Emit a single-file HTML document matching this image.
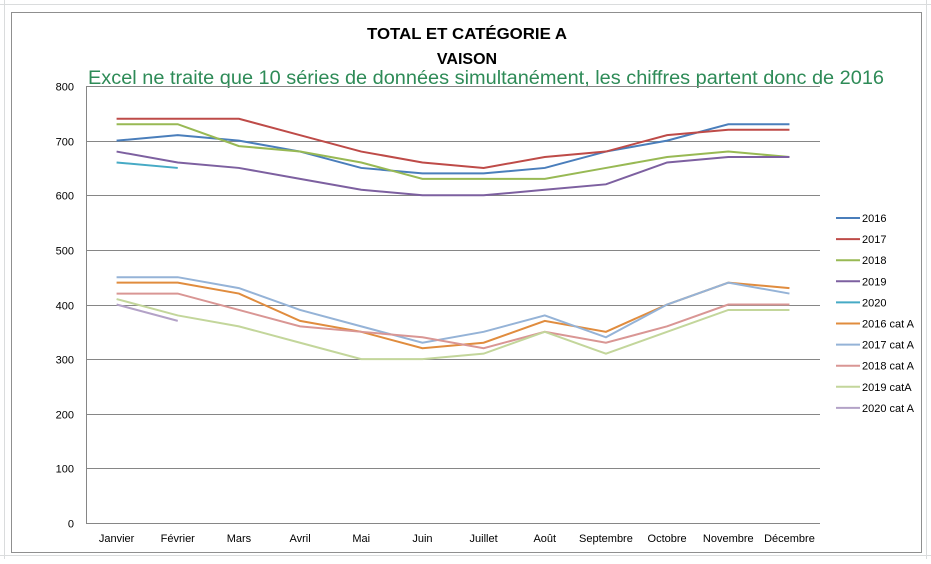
<!DOCTYPE html>
<html><head><meta charset="utf-8"><style>
body{margin:0;background:#fff;width:931px;height:559px;overflow:hidden;font-family:"Liberation Sans",Arial,sans-serif}
</style></head><body>
<svg id="s" width="931" height="559" xmlns="http://www.w3.org/2000/svg" font-family="Liberation Sans, Arial, sans-serif">
<rect width="931" height="559" fill="#fff"/>
<g stroke="#dadcdd" stroke-width="1">
<line x1="0" y1="4.5" x2="931" y2="4.5"/><line x1="0" y1="555.5" x2="931" y2="555.5"/>
<line x1="4.5" y1="0" x2="4.5" y2="559"/><line x1="926.5" y1="0" x2="926.5" y2="559"/>
</g>
<rect x="11.5" y="12.5" width="910" height="540" fill="#fff" stroke="#8f8f8f" stroke-width="1"/>
<text x="467" y="39" text-anchor="middle" font-size="16" font-weight="bold" textLength="200" lengthAdjust="spacingAndGlyphs">TOTAL ET CATÉGORIE A</text>
<text x="467" y="64" text-anchor="middle" font-size="16" font-weight="bold">VAISON</text>
<text x="88" y="84" font-size="19" fill="#2e8b57" textLength="796" lengthAdjust="spacingAndGlyphs">Excel ne traite que 10 séries de  données simultanément, les chiffres partent donc de 2016</text>
<g id="grid"></g>
<g id="lines" fill="none" stroke-width="2"></g>
<g id="leg"></g>
</svg>
<script>
var ns="http://www.w3.org/2000/svg";
function el(p,t,a,txt){var e=document.createElementNS(ns,t);for(var k in a)e.setAttribute(k,a[k]);if(txt!=null)e.textContent=txt;document.getElementById(p).appendChild(e);return e;}
function Y(v){return 523-v*0.54625;}function X(i){return 86+61.17*(i+0.5);}
for(var v=0;v<=800;v+=100){var y=Math.round(Y(v))+0.5;
if(v>0)el('grid','line',{x1:86,x2:820,y1:y,y2:y,stroke:'#868686','stroke-width':1});
el('grid','text',{x:74,y:y+4,'text-anchor':'end','font-size':11},v);}
el('grid','line',{x1:86.5,x2:86.5,y1:86,y2:523,stroke:'#868686'});
el('grid','line',{x1:86,x2:820,y1:523.5,y2:523.5,stroke:'#868686'});
var m=['Janvier','Février','Mars','Avril','Mai','Juin','Juillet','Août','Septembre','Octobre','Novembre','Décembre'];
m.forEach(function(t,i){el('grid','text',{x:X(i),y:542,'text-anchor':'middle','font-size':11},t);});
var S=[
['2016','#4a7ebb',[700,710,700,680,650,640,640,650,680,700,730,730]],
['2017','#be4b48',[740,740,740,710,680,660,650,670,680,710,720,720]],
['2018','#98b954',[730,730,690,680,660,630,630,630,650,670,680,670]],
['2019','#7d60a0',[680,660,650,630,610,600,600,610,620,660,670,670]],
['2020','#46aac5',[660,650]],
['2016 cat A','#e08c3e',[440,440,420,370,350,320,330,370,350,400,440,430]],
['2017 cat A','#95b3d7',[450,450,430,390,360,330,350,380,340,400,440,420]],
['2018 cat A','#d99694',[420,420,390,360,350,340,320,350,330,360,400,400]],
['2019 catA','#c3d69b',[410,380,360,330,300,300,310,350,310,350,390,390]],
['2020 cat A','#b3a2c7',[400,370]]];
S.forEach(function(d,k){
el('lines','polyline',{stroke:d[1],points:d[2].map(function(v,i){return X(i)+','+Y(v)}).join(' ')});
var ly=218+k*21.1;
el('leg','line',{x1:836,x2:860,y1:ly,y2:ly,stroke:d[1],'stroke-width':2});
el('leg','text',{x:862,y:ly+4,'font-size':11},d[0]);});
</script>
</body></html>
